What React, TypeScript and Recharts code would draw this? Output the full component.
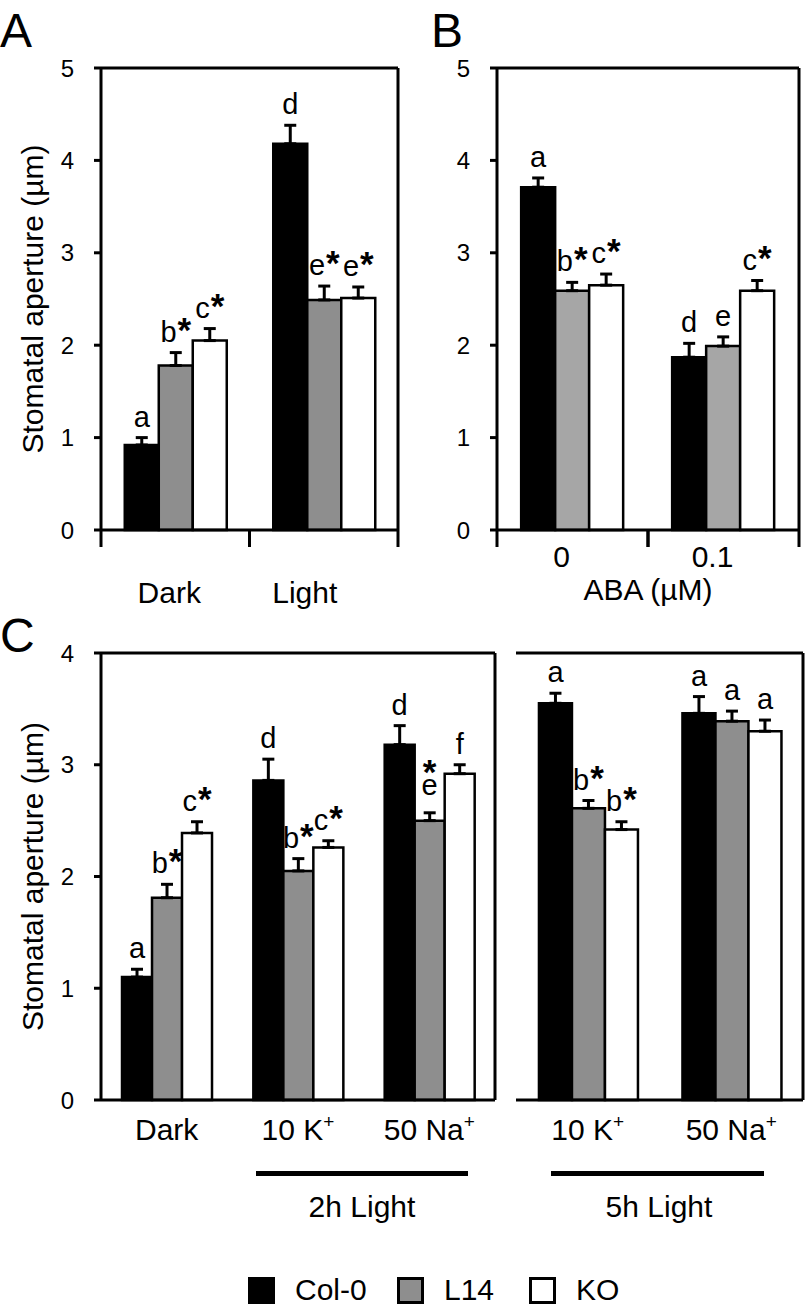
import React from 'react';
import { BarChart, Bar, XAxis, YAxis, ErrorBar, LabelList, CartesianGrid } from 'recharts';

const FONT = '"Liberation Sans", Arial, Helvetica, sans-serif';
const INK = '#000000';

const seriesNames = ['Col-0', 'L14', 'KO'];
const fillsMain = ['#000000', '#8e8e8e', '#ffffff'];
const fillsB = ['#000000', '#a6a6a6', '#ffffff'];

// A: dark vs light
const aCategories = ['Dark', 'Light'];
const aCol0 = [0.92, 4.18];
const aL14 = [1.78, 2.49];
const aKO = [2.05, 2.51];
const aCol0Err = [0.08, 0.2];
const aL14Err = [0.14, 0.15];
const aKOErr = [0.13, 0.12];
const aCol0Sig = ['a', 'd'];
const aL14Sig = ['b*', 'e*'];
const aKOSig = ['c*', 'e*'];

// B: ABA (µM)
const bCategories = ['0', '0.1'];
const bCol0 = [3.71, 1.87];
const bL14 = [2.59, 1.99];
const bKO = [2.65, 2.59];
const bCol0Err = [0.1, 0.15];
const bL14Err = [0.09, 0.1];
const bKOErr = [0.12, 0.11];
const bCol0Sig = ['a', 'd'];
const bL14Sig = ['b*', 'e'];
const bKOSig = ['c*', 'c*'];

// C: 2h light (with dark control)
const c2Categories = ['Dark', '10 K+', '50 Na+'];
const c2Col0 = [1.1, 2.86, 3.18];
const c2L14 = [1.81, 2.05, 2.5];
const c2KO = [2.39, 2.26, 2.92];
const c2Col0Err = [0.07, 0.19, 0.17];
const c2L14Err = [0.12, 0.11, 0.07];
const c2KOErr = [0.1, 0.06, 0.08];
const c2Col0Sig = ['a', 'd', 'd'];
const c2L14Sig = ['b*', 'b*', '*|e'];
const c2KOSig = ['c*', 'c*', 'f'];

// C: 5h light
const c5Categories = ['10 K+', '50 Na+'];
const c5Col0 = [3.55, 3.46];
const c5L14 = [2.61, 3.39];
const c5KO = [2.42, 3.3];
const c5Col0Err = [0.09, 0.15];
const c5L14Err = [0.07, 0.09];
const c5KOErr = [0.07, 0.1];
const c5Col0Sig = ['a', 'a'];
const c5L14Sig = ['b*', 'a'];
const c5KOSig = ['b*', 'a'];

const ticks5 = [0, 1, 2, 3, 4, 5];
const ticks4 = [0, 1, 2, 3, 4];

const legendX = [248, 397, 529];

type Panel = { cats: string[]; vals: number[][]; errs: number[][]; sigs: string[][] };

const rowsOf = ({ cats, vals, errs, sigs }: Panel) =>
  cats.map((cat, i) => {
    const row: any = { cat };
    vals.forEach((v, s) => {
      row['v' + s] = v[i];
      row['e' + s] = [0, errs[s][i]];
      row['s' + s] = sigs[s][i];
    });
    return row;
  });

const panelA: Panel = { cats: aCategories, vals: [aCol0, aL14, aKO], errs: [aCol0Err, aL14Err, aKOErr], sigs: [aCol0Sig, aL14Sig, aKOSig] };
const panelB: Panel = { cats: bCategories, vals: [bCol0, bL14, bKO], errs: [bCol0Err, bL14Err, bKOErr], sigs: [bCol0Sig, bL14Sig, bKOSig] };
const panelC2: Panel = { cats: c2Categories, vals: [c2Col0, c2L14, c2KO], errs: [c2Col0Err, c2L14Err, c2KOErr], sigs: [c2Col0Sig, c2L14Sig, c2KOSig] };
const panelC5: Panel = { cats: c5Categories, vals: [c5Col0, c5L14, c5KO], errs: [c5Col0Err, c5L14Err, c5KOErr], sigs: [c5Col0Sig, c5L14Sig, c5KOSig] };

const SIG_SIZE = 29;
const TEXT_SIZE = 30;
const Y_AXIS_W = 100;

// letter above the error bar; px-per-unit comes from the bar's own height
const sigLabel = (vals: number[], errs: number[], sigs: string[]) => (props: any) => {
  const vb = props.viewBox && props.viewBox.width != null ? props.viewBox : props;
  const { x, y, width, height } = vb;
  const i = props.index;
  if (i == null || vals[i] == null) return null;
  const ppu = Math.abs(height) / vals[i];
  const top = Math.min(y, y + height) - errs[i] * ppu;
  const cx = x + width / 2;
  const text = sigs[i];
  if (text.includes('|')) {
    // star stacked over the letter
    const [upper, lower] = text.split('|');
    const base = top - 18;
    return (
      <text x={cx} y={base - 11} textAnchor="middle" fontSize={SIG_SIZE} fontFamily={FONT} fill={INK}>
        <tspan fontSize={SIG_SIZE + 6} fontWeight="bold">{upper}</tspan>
        <tspan x={cx} dy={11}>{lower}</tspan>
      </text>
    );
  }
  const letter = text.replace('*', '');
  const star = text.includes('*');
  return (
    <text x={cx} y={top - 11} textAnchor="middle" fontSize={SIG_SIZE} fontFamily={FONT} fill={INK}>
      {letter}
      {star && <tspan fontSize={SIG_SIZE + 6} fontWeight="bold" dx={1}>*</tspan>}
    </text>
  );
};

const CategoryTick = (props: any) => {
  const { x, y, payload, boundary, labelDy, shifts } = props;
  const half = payload && payload.offset != null ? payload.offset : 0;
  const label = String(payload.value);
  const sup = label.endsWith('+');
  const dx = shifts ? shifts[payload.index] || 0 : 0;
  return (
    <g>
      {boundary && <line x1={x - half} x2={x - half} y1={y} y2={y + 17} stroke={INK} strokeWidth={3} />}
      {boundary && <line x1={x + half} x2={x + half} y1={y} y2={y + 17} stroke={INK} strokeWidth={3} />}
      <text x={x + dx} y={y + labelDy} textAnchor="middle" fontSize={TEXT_SIZE} fontFamily={FONT} fill={INK}>
        {sup ? label.slice(0, -1) : label}
        {sup && <tspan dy={-12} fontSize={19}>+</tspan>}
      </text>
    </g>
  );
};

// value labels sit well left of the axis, right-aligned
const ValueTick = (props: any) => {
  const { y, payload, left } = props;
  return (
    <text x={left + Y_AXIS_W - 27} y={y} dy="0.36em" textAnchor="end" fontSize={24} fontFamily={FONT} fill={INK}>
      {payload.value}
    </text>
  );
};

const yTitle = (props: any) => {
  const vb = props.viewBox;
  return (
    <text
      transform={`translate(${vb.x + 31}, ${vb.y + vb.height / 2}) rotate(-90)`}
      textAnchor="middle"
      dominantBaseline="central"
      fontSize={TEXT_SIZE}
      fontFamily={FONT}
      fill={INK}
    >
      Stomatal aperture (µm)
    </text>
  );
};

const abaTitle = (props: any) => {
  const vb = props.viewBox;
  return (
    <text x={vb.x + vb.width / 2} y={vb.y + 70} textAnchor="middle" fontSize={TEXT_SIZE} fontFamily={FONT} fill={INK}>
      ABA (µM)
    </text>
  );
};

type ChartProps = {
  panel: Panel;
  fills: string[];
  width: number;
  height: number;
  margin: any;
  yMax: number;
  yTicks: number[];
  showY: boolean;
  showTitle: boolean;
  boundary: boolean;
  labelDy: number;
  labelShift?: number[];
  xHeight: number;
  xLabel?: any;
};

const PanelChart = ({ panel, fills, width, height, margin, yMax, yTicks, showY, showTitle, boundary, labelDy, labelShift, xHeight, xLabel }: ChartProps) => {
  const data = rowsOf(panel);
  const axisLine = { stroke: INK, strokeWidth: 3 };
  return (
    <BarChart width={width} height={height} data={data} margin={margin} barGap={0} barCategoryGap="16%">
      {/* top and right edges of the frame */}
      <CartesianGrid
        stroke={INK}
        strokeWidth={3}
        horizontalCoordinatesGenerator={(p: any) => [p.offset.top]}
        verticalCoordinatesGenerator={(p: any) => [p.offset.left + p.offset.width]}
      />
      <XAxis
        dataKey="cat"
        axisLine={axisLine}
        tickLine={false}
        tickSize={0}
        tickMargin={0}
        height={xHeight}
        interval={0}
        tick={(p: any) => <CategoryTick {...p} boundary={boundary} labelDy={labelDy} shifts={labelShift} />}
        label={xLabel}
      />
      <YAxis
        type="number"
        domain={[0, yMax]}
        ticks={yTicks}
        interval={0}
        width={showY ? Y_AXIS_W : 0}
        axisLine={axisLine}
        tick={showY ? (p: any) => <ValueTick {...p} left={margin.left} /> : false}
        tickLine={showY ? { stroke: INK, strokeWidth: 3 } : false}
        tickSize={7}
        tickMargin={2}
        label={showTitle ? { content: yTitle } : undefined}
      />
      {seriesNames.map((name, s) => (
        <Bar
          key={name}
          name={name}
          dataKey={'v' + s}
          fill={fills[s]}
          stroke={INK}
          strokeWidth={2.5}
          isAnimationActive={false}
        >
          <ErrorBar dataKey={'e' + s} direction="y" width={6} stroke={INK} strokeWidth={3} />
          <LabelList dataKey={'s' + s} content={sigLabel(panel.vals[s], panel.errs[s], panel.sigs[s])} />
        </Bar>
      ))}
    </BarChart>
  );
};

export default function App() {
  return (
    <div style={{ position: 'absolute', left: 0, top: 0, width: 807, height: 1309, background: '#fff', fontFamily: FONT }}>
      <div style={{ position: 'absolute', left: 0, top: 0 }}>
        <PanelChart
          panel={panelA}
          fills={fillsMain}
          width={410}
          height={620}
          margin={{ top: 68, right: 12, bottom: 0, left: 1 }}
          yMax={5}
          yTicks={ticks5}
          showY
          showTitle
          boundary
          labelDy={73}
          labelShift={[-6, -19]}
          xHeight={90}
        />
      </div>
      <div style={{ position: 'absolute', left: 397, top: 0 }}>
        <PanelChart
          panel={panelB}
          fills={fillsB}
          width={410}
          height={620}
          margin={{ top: 68, right: 8, bottom: 0, left: 0 }}
          yMax={5}
          yTicks={ticks5}
          showY
          showTitle={false}
          boundary
          labelDy={37}
          labelShift={[-11, -11]}
          xHeight={90}
          xLabel={{ content: abaTitle }}
        />
      </div>
      <div style={{ position: 'absolute', left: 0, top: 600 }}>
        <PanelChart
          panel={panelC2}
          fills={fillsMain}
          width={500}
          height={560}
          margin={{ top: 53, right: 5, bottom: 0, left: 1 }}
          yMax={4}
          yTicks={ticks4}
          showY
          showTitle
          boundary={false}
          labelDy={40}
          xHeight={60}
        />
      </div>
      <div style={{ position: 'absolute', left: 516, top: 600 }}>
        <PanelChart
          panel={panelC5}
          fills={fillsMain}
          width={291}
          height={560}
          margin={{ top: 53, right: 4, bottom: 0, left: 0 }}
          yMax={4}
          yTicks={ticks4}
          showY={false}
          showTitle={false}
          boundary={false}
          labelDy={40}
          xHeight={60}
        />
      </div>
      <svg width={807} height={1309} style={{ position: 'absolute', left: 0, top: 0, pointerEvents: 'none' }}>
        <g fontFamily={FONT} fill={INK}>
          <text x={0} y={47} fontSize={48}>A</text>
          <text x={431} y={47} fontSize={48}>B</text>
          <text x={0} y={652} fontSize={48}>C</text>
          <rect x={256} y={1171} width={212} height={5} />
          <rect x={551} y={1171} width={213} height={5} />
          <text x={362} y={1217} fontSize={TEXT_SIZE} textAnchor="middle">2h Light</text>
          <text x={659} y={1217} fontSize={TEXT_SIZE} textAnchor="middle">5h Light</text>
          {seriesNames.map((name, s) => (
            <g key={name}>
              <rect x={legendX[s] + 1.5} y={1278.5} width={24} height={24} fill={fillsMain[s]} stroke={INK} strokeWidth={3} />
              <text x={legendX[s] + 47} y={1300} fontSize={TEXT_SIZE}>{name}</text>
            </g>
          ))}
        </g>
      </svg>
    </div>
  );
}
